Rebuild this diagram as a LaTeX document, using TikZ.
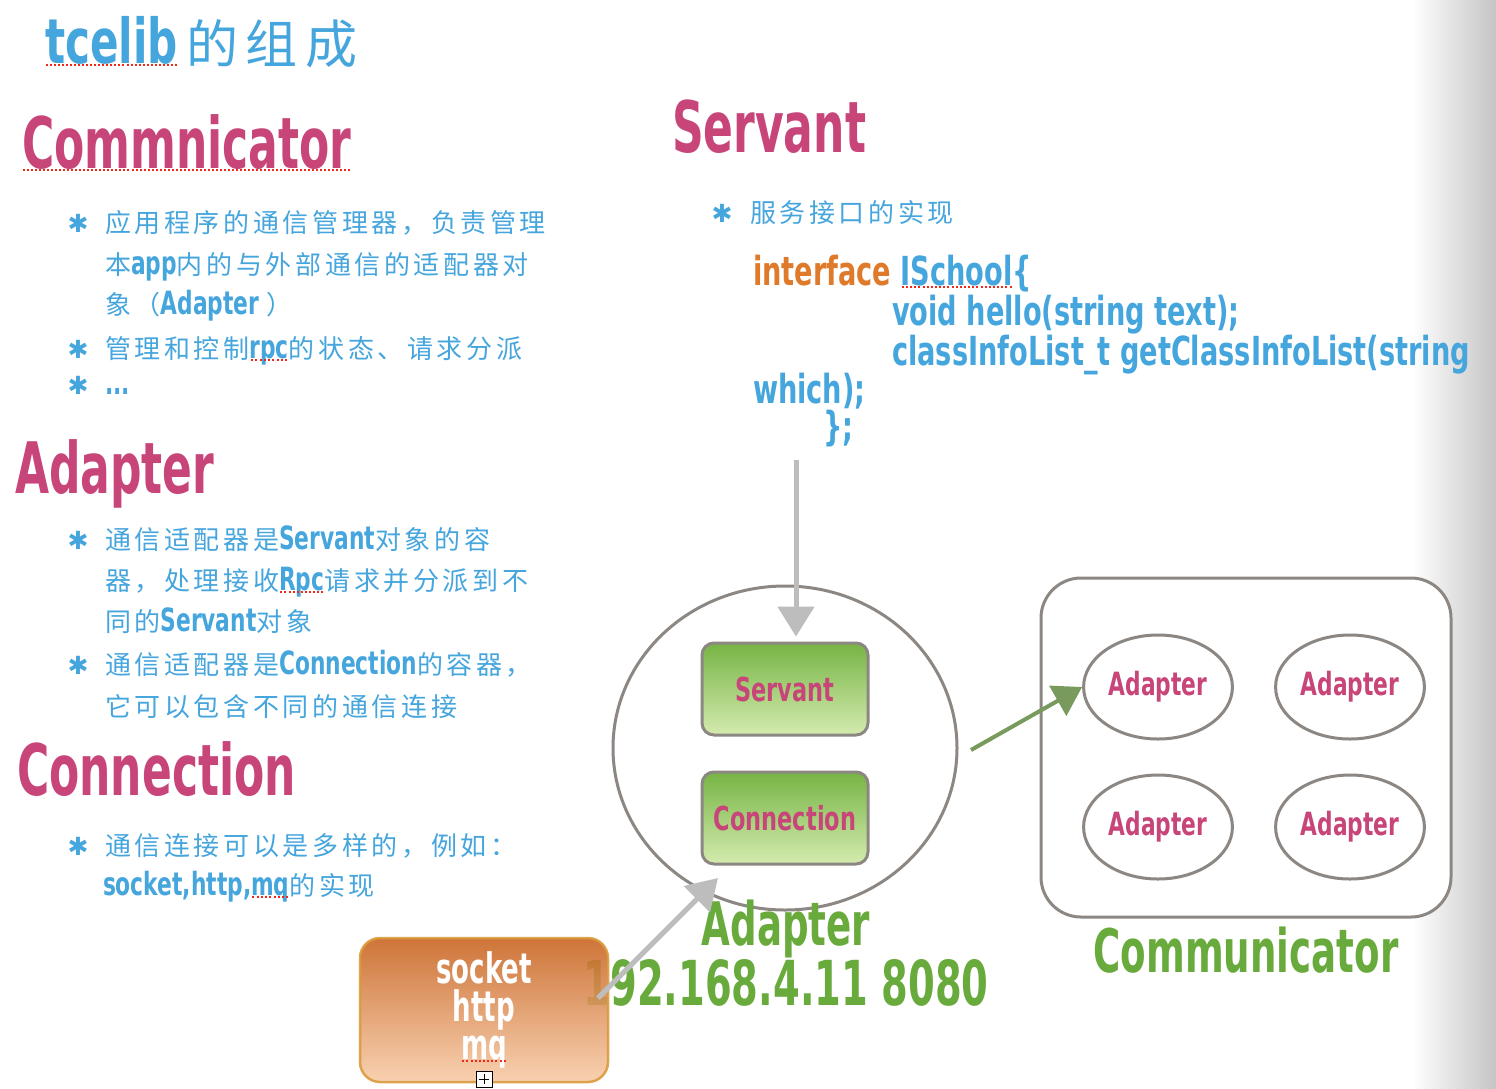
\documentclass[tikz,border=0pt]{standalone}
\usepackage{fontspec}
\usepackage{graphicx}
\usetikzlibrary{shapes.geometric,arrows.meta}
\newfontfamily\cjk[LetterSpace=14]{Noto Sans CJK SC}
\newfontfamily\hk[FakeStretch=0.62]{DejaVu Sans Bold}
\newfontfamily\hc[FakeStretch=0.68]{DejaVu Sans Bold}
\newfontfamily\dv{DejaVu Sans Bold}
\definecolor{pinkT}{HTML}{C8457A}
\definecolor{blueT}{HTML}{45A5DD}
\definecolor{greenT}{HTML}{68AA3C}
\definecolor{orangeT}{HTML}{E07A2B}
\definecolor{grayL}{HTML}{8C8783}
\definecolor{arrowG}{HTML}{BDBDBD}
\definecolor{arrowGreen}{HTML}{789A5C}
\definecolor{redU}{HTML}{F02A1A}
\definecolor{boxTop}{HTML}{76B444}
\definecolor{boxBot}{HTML}{D4EBAF}
\definecolor{sockTop}{HTML}{C8621E}
\definecolor{sockBot}{HTML}{F8CBA6}
\definecolor{sockLine}{HTML}{DA9A3A}
\newcommand\fs[1]{\fontsize{#1}{#1}\selectfont}
\newcommand\rdu[1]{\setbox0\hbox{#1}\rlap{\copy0}\raisebox{-3pt}{\color{redU}\hbox to \wd0{\xleaders\hbox to 4pt{\hss\rule{2pt}{2pt}\hss}\hfill}}}
\newcommand\lat[1]{{\hc\fs{32}#1}}
\tikzset{
  txt/.style={anchor=base west, inner sep=0pt, outer sep=0pt},
  heading/.style={txt, text=pinkT, font=\hk\fs{71}},
  bullet/.style={txt, text=blueT, font=\cjk\fs{26}},
  starb/.style={inner sep=0pt, text=blueT, font=\dv\fs{25}},
  code/.style={txt, text=blueT, font=\hc\fs{40}},
  greenbox/.style={draw=grayL, line width=3pt, rounded corners=12pt, top color=boxTop, bottom color=boxBot, minimum width=166pt, minimum height=92pt, text=pinkT, font=\hc\fs{33}},
  adp/.style={ellipse, draw=grayL, line width=3pt, fill=white, minimum width=142pt, minimum height=104pt, text=pinkT, font=\hc\fs{32}},
  grayarrow/.style={draw=arrowG, line width=5pt, -{Triangle[length=30pt,width=36pt]}},
  greenarrow/.style={draw=arrowGreen, line width=4pt, -{Triangle[length=28pt,width=34pt]}},
  greenlabel/.style={anchor=base, inner sep=0pt, text=greenT, font=\hk\fs{60}}
}
\begin{document}
\begin{tikzpicture}[x=1pt,y=-1pt]
\useasboundingbox (0,0) rectangle (1496,1088);
\fill[white] (0,0) rectangle (1496,1088);
\shade[left color=white, right color=black!23] (1412,0) rectangle (1496,1088);

% title
\node[txt, text=blueT] (title) at (45,63) {{\hc\fs{62}\rdu{tcelib}}{\cjk\fs{52}\,的组成}};

% Commnicator section
\node[heading] (hcomm) at (22,168) {\rdu{Commnicator}};
\node[starb] (s1) at (78,223) {✱};
\node[bullet] (b1) at (105,232) {应用程序的通信管理器，负责管理};
\node[bullet] (b2) at (105,274) {本\lat{app}内的与外部通信的适配器对};
\node[bullet] (b3) at (105,314) {象（\lat{Adapter }）};
\node[starb] (s2) at (78,349) {✱};
\node[bullet] (b4) at (105,358) {管理和控制\lat{\rdu{rpc}}的状态、请求分派};
\node[starb] (s3) at (78,385) {✱};
\node[bullet] (b5) at (105,394) {\lat{...}};

% Adapter section
\node[heading] (hadp) at (15,493) {Adapter};
\node[starb] (s4) at (78,540) {✱};
\node[bullet] (c1) at (105,549) {通信适配器是\lat{Servant}对象的容};
\node[bullet] (c2) at (105,590) {器，处理接收\lat{\rdu{Rpc}}请求并分派到不};
\node[bullet] (c3) at (105,631) {同的\lat{Servant}对象};
\node[starb] (s5) at (78,665) {✱};
\node[bullet] (c4) at (105,674) {通信适配器是\lat{Connection}的容器，};
\node[bullet] (c5) at (105,716) {它可以包含不同的通信连接};

% Connection section
\node[heading] (hconn) at (17,795) {Connection};
\node[starb] (s6) at (78,846) {✱};
\node[bullet] (d1) at (105,855) {通信连接可以是多样的，例如：};
\node[bullet] (d2) at (103,895) {\lat{socket,http,\rdu{mq}}的实现};

% Servant section
\node[heading] (hserv) at (672,152) {Servant};
\node[starb] (s7) at (722,213) {✱};
\node[bullet] (e1) at (750,222) {服务接口的实现};
\node[code] (k1) at (753,285) {{\color{orangeT}interface} \rdu{ISchool}\{};
\node[code] (k2) at (892,325) {void hello(string text);};
\node[code] (k3) at (892,365) {classInfoList\_t getClassInfoList(string};
\node[code] (k4) at (753,403) {which);};
\node[code] (k5) at (823,440) {\};};

% adapter circle
\node[ellipse, draw=grayL, line width=3pt, minimum width=344pt, minimum height=324pt] (circ) at (785,748) {};
\node[greenbox] (serv) at (785,689) {Servant};
\node[greenbox] (conn) at (785,818) {Connection};
\node[anchor=north, inner sep=0pt, text=greenT, align=center, font=\hk\fontsize{62}{56}\selectfont] (gadp) at (786,900) {{\fs{60}Adapter}\\192.168.4.11 8080};

% socket box
\node[draw=sockLine, line width=2.5pt, rounded corners=20pt, top color=sockTop, bottom color=sockBot, opacity=0.88, text opacity=1, minimum width=248pt, minimum height=144pt] (sock) at (484,1010) {};
\node[anchor=north, inner sep=0pt, text=white, align=center, font=\hk\fontsize{42}{38}\selectfont] (sockt) at (484,951) {socket\\http\\\rdu{mq}};
\node[draw=black, line width=0.8pt, fill=white, minimum size=16pt, inner sep=0pt] (plus) at (484,1079) {};
\draw[line width=0.8pt] (plus.north) ++(0,3) -- ++(0,10);
\draw[line width=0.8pt] (plus.west) ++(3,0) -- ++(10,0);

% communicator box
\node[draw=grayL, line width=3pt, fill=white, rounded corners=40pt, minimum width=410pt, minimum height=339pt] (commbox) at (1246,747.5) {};
\node[adp] (a1) at (1158,687) {Adapter};
\node[adp] (a2) at (1350,687) {Adapter};
\node[adp] (a3) at (1158,827) {Adapter};
\node[adp] (a4) at (1350,827) {Adapter};
\node[greenlabel] (gcomm) at (1246,972) {Communicator};

% arrows
\coordinate (downstart) at (796,460);
\draw[grayarrow, shorten >=5pt] (downstart) -- (serv.north -| downstart);
\coordinate (diagstart) at (598,998);
\coordinate (diagend) at (718,878);
\draw[grayarrow] (diagstart) -- (diagend);
\coordinate (gstart) at (971,750);
\draw[greenarrow] (gstart) -- (a1.west);
\end{tikzpicture}
\end{document}
